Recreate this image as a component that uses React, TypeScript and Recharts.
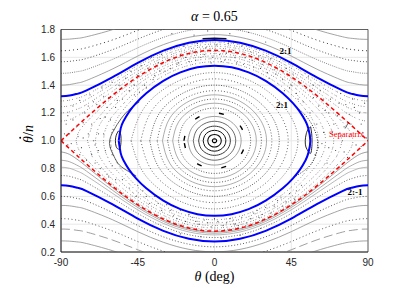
import {
  ComposedChart,
  Line,
  Scatter,
  XAxis,
  YAxis,
  CartesianGrid,
  ReferenceArea,
  ReferenceDot,
} from 'recharts';

type Pt = { x: number; y: number };

// theta (deg) at which the circulating curves were read
const thetaGrid = [-90, -85, -80, -75, -60, -45, -30, -15, 0, 15, 30, 45, 60, 75, 80, 85, 90];

const xTicks = [-90, -45, 0, 45, 90];
const yTicks = [0.2, 0.4, 0.6, 0.8, 1.0, 1.2, 1.4, 1.6, 1.8];

// circulating curves above the upper blue curve
const rotUp1 = [1.729, 1.731, 1.737, 1.748, 1.798, 1.862, 1.921, 1.962, 1.977, 1.962, 1.921, 1.862, 1.798, 1.748, 1.737, 1.731, 1.729];
const rotUp2 = [1.647, 1.65, 1.657, 1.669, 1.724, 1.794, 1.858, 1.902, 1.917, 1.902, 1.858, 1.794, 1.724, 1.669, 1.657, 1.65, 1.647];
const rotUp3 = [1.568, 1.571, 1.579, 1.592, 1.654, 1.731, 1.8, 1.847, 1.863, 1.847, 1.8, 1.731, 1.654, 1.592, 1.579, 1.571, 1.568];
const rotUp4 = [1.485, 1.488, 1.498, 1.513, 1.584, 1.668, 1.743, 1.793, 1.811, 1.793, 1.743, 1.668, 1.584, 1.513, 1.498, 1.488, 1.485];
const rotUp5 = [1.4, 1.404, 1.416, 1.434, 1.515, 1.609, 1.691, 1.744, 1.763, 1.744, 1.691, 1.609, 1.515, 1.434, 1.416, 1.404, 1.4];

// 2:1 (upper) and 2:-1 (lower) curves
const blueUpper = [1.32, 1.325, 1.339, 1.362, 1.456, 1.56, 1.648, 1.705, 1.725, 1.705, 1.648, 1.56, 1.456, 1.362, 1.339, 1.325, 1.32];
const blueLower = [0.68, 0.675, 0.661, 0.638, 0.544, 0.44, 0.352, 0.295, 0.275, 0.295, 0.352, 0.44, 0.544, 0.638, 0.661, 0.675, 0.68];

// circulating curves below the lower blue curve
const rotLow1 = [0.6, 0.596, 0.584, 0.566, 0.485, 0.391, 0.309, 0.256, 0.237, 0.256, 0.309, 0.391, 0.485, 0.566, 0.584, 0.596, 0.6];
const rotLow2 = [0.535, 0.532, 0.522, 0.506, 0.433, 0.346, 0.27, 0.219, 0.201, 0.219, 0.27, 0.346, 0.433, 0.506, 0.522, 0.532, 0.535];
const rotLow3 = [0.44, 0.437, 0.428, 0.415, 0.352, 0.275, 0.206, 0.158, 0.142, 0.158, 0.206, 0.275, 0.352, 0.415, 0.428, 0.437, 0.44];
const rotLow4 = [0.365, 0.363, 0.355, 0.343, 0.287, 0.216, 0.152, 0.107, 0.091, 0.107, 0.152, 0.216, 0.287, 0.343, 0.355, 0.363, 0.365];
const rotLow5 = [0.28, 0.278, 0.272, 0.261, 0.21, 0.146, 0.086, 0.045, 0.03, 0.045, 0.086, 0.146, 0.21, 0.261, 0.272, 0.278, 0.28];

// just below the separatrix, between it and the 2:-1 curve
const nearSep1 = [0.92, 0.902, 0.862, 0.814, 0.665, 0.533, 0.431, 0.367, 0.345, 0.367, 0.431, 0.533, 0.665, 0.814, 0.862, 0.902, 0.92];
const nearSep2 = [0.86, 0.849, 0.82, 0.781, 0.646, 0.52, 0.42, 0.357, 0.335, 0.357, 0.42, 0.52, 0.646, 0.781, 0.82, 0.849, 0.86];
const nearSep3 = [0.81, 0.802, 0.779, 0.746, 0.624, 0.503, 0.406, 0.344, 0.323, 0.344, 0.406, 0.503, 0.624, 0.746, 0.779, 0.802, 0.81];
const nearSep4 = [0.75, 0.744, 0.726, 0.699, 0.59, 0.477, 0.384, 0.324, 0.304, 0.324, 0.384, 0.477, 0.59, 0.699, 0.726, 0.744, 0.75];

// speckled chaotic layer above the separatrix
const chaosUp1 = [1.141, 1.152, 1.181, 1.22, 1.354, 1.481, 1.58, 1.644, 1.665, 1.644, 1.58, 1.481, 1.354, 1.22, 1.181, 1.152, 1.141];
const chaosUp2 = [1.2, 1.208, 1.23, 1.261, 1.382, 1.501, 1.597, 1.659, 1.68, 1.659, 1.597, 1.501, 1.382, 1.261, 1.23, 1.208, 1.2];
const chaosUp3 = [1.245, 1.251, 1.27, 1.297, 1.407, 1.521, 1.614, 1.674, 1.695, 1.674, 1.614, 1.521, 1.407, 1.297, 1.27, 1.251, 1.245];
const chaosUp4 = [1.286, 1.292, 1.308, 1.332, 1.433, 1.542, 1.632, 1.69, 1.71, 1.69, 1.632, 1.542, 1.433, 1.332, 1.308, 1.292, 1.286];

// separatrix (red dashed)
const sepUpper = [1, 1.057, 1.113, 1.168, 1.325, 1.46, 1.563, 1.628, 1.65, 1.628, 1.563, 1.46, 1.325, 1.168, 1.113, 1.057, 1];
const sepLower = [1, 0.943, 0.887, 0.832, 0.675, 0.54, 0.437, 0.372, 0.35, 0.372, 0.437, 0.54, 0.675, 0.832, 0.887, 0.943, 1];

// upper halves [theta, value] of closed curves; lower halves mirror about 1
const eyeUpper = [[-56.18, 1], [-55, 1.089], [-53.4, 1.14], [-50, 1.209], [-46, 1.27], [-40, 1.342], [-30, 1.431], [-20, 1.492], [-10, 1.528], [0, 1.54], [10, 1.528], [20, 1.492], [30, 1.431], [40, 1.342], [46, 1.27], [50, 1.209], [53.4, 1.14], [55, 1.089], [56.18, 1]];

const chaosLoop1 = [[-81.15, 1], [-80, 1.052], [-75, 1.135], [-60, 1.309], [-45, 1.449], [-30, 1.554], [-15, 1.62], [0, 1.642], [15, 1.62], [30, 1.554], [45, 1.449], [60, 1.309], [75, 1.135], [80, 1.052], [81.15, 1]];
const chaosLoop2 = [[-74.5, 1], [-72, 1.102], [-70, 1.139], [-60, 1.275], [-45, 1.426], [-30, 1.536], [-15, 1.604], [0, 1.627], [15, 1.604], [30, 1.536], [45, 1.426], [60, 1.275], [70, 1.139], [72, 1.102], [74.5, 1]];
const chaosLoop3 = [[-69.9, 1], [-68, 1.096], [-65, 1.16], [-60, 1.236], [-45, 1.402], [-30, 1.517], [-15, 1.587], [0, 1.61], [15, 1.587], [30, 1.517], [45, 1.402], [60, 1.236], [65, 1.16], [68, 1.096], [69.9, 1]];
const chaosLoop4 = [[-65.1, 1], [-64, 1.079], [-62, 1.135], [-60, 1.175], [-45, 1.369], [-30, 1.492], [-15, 1.565], [0, 1.59], [15, 1.565], [30, 1.492], [45, 1.369], [60, 1.175], [62, 1.135], [64, 1.079], [65.1, 1]];
const chaosLoop5 = [[-60.9, 1], [-60, 1.075], [-58, 1.137], [-55, 1.198], [-45, 1.334], [-30, 1.466], [-15, 1.542], [0, 1.568], [15, 1.542], [30, 1.466], [45, 1.334], [55, 1.198], [58, 1.137], [60, 1.075], [60.9, 1]];

// librating curves around the centre (0, 1)
const ring1 = [[-1.23, 1], [-1.07, 1.007], [-0.62, 1.012], [0, 1.014], [0.62, 1.012], [1.07, 1.007], [1.23, 1]];
const ring2 = [[-3.97, 1], [-3.43, 1.023], [-1.98, 1.039], [0, 1.045], [1.98, 1.039], [3.43, 1.023], [3.97, 1]];
const ring3 = [[-6.63, 1], [-5.73, 1.038], [-3.31, 1.065], [0, 1.075], [3.31, 1.065], [5.73, 1.038], [6.63, 1]];
const ring4 = [[-9.3, 1], [-8.04, 1.053], [-4.63, 1.091], [0, 1.105], [4.63, 1.091], [8.04, 1.053], [9.3, 1]];
const ring5 = [[-12.44, 1], [-10.75, 1.07], [-6.18, 1.121], [0, 1.14], [6.18, 1.121], [10.75, 1.07], [12.44, 1]];
const ring6 = [[-15.62, 1], [-13.48, 1.088], [-7.74, 1.152], [0, 1.175], [7.74, 1.152], [13.48, 1.088], [15.62, 1]];
const ring7 = [[-17.92, 1], [-15.45, 1.1], [-8.85, 1.173], [0, 1.2], [8.85, 1.173], [15.45, 1.1], [17.92, 1]];
const ring8 = [[-21.19, 1], [-18.25, 1.118], [-10.42, 1.204], [0, 1.235], [10.42, 1.204], [18.25, 1.118], [21.19, 1]];
const ring9 = [[-24.54, 1], [-21.08, 1.135], [-11.99, 1.234], [0, 1.27], [11.99, 1.234], [21.08, 1.135], [24.54, 1]];
const ring10 = [[-27.49, 1], [-23.56, 1.15], [-13.34, 1.26], [0, 1.3], [13.34, 1.26], [23.56, 1.15], [27.49, 1]];
const ring11 = [[-30.51, 1], [-26.08, 1.165], [-14.7, 1.286], [0, 1.33], [14.7, 1.286], [26.08, 1.165], [30.51, 1]];
const ring12 = [[-33.63, 1], [-28.66, 1.18], [-16.08, 1.312], [0, 1.36], [16.08, 1.312], [28.66, 1.18], [33.63, 1]];
const ring13 = [[-37.98, 1], [-32.2, 1.2], [-17.92, 1.346], [0, 1.4], [17.92, 1.346], [32.2, 1.2], [37.98, 1]];
const ring14 = [[-43.21, 1], [-36.36, 1.223], [-20.02, 1.385], [0, 1.445], [20.02, 1.385], [36.36, 1.223], [43.21, 1]];
const ring15 = [[-48.92, 1], [-40.75, 1.245], [-22.14, 1.424], [0, 1.49], [22.14, 1.424], [40.75, 1.245], [48.92, 1]];

// small islands at the ends of the 2:1 eye and the curves wrapping them
const islandRight = [[56.4, 1.1], [55, 1.085], [53.8, 1.05], [53.2, 1.0], [53.6, 0.955], [54.9, 0.925], [56.4, 0.91], [57.1, 0.96], [57.2, 1.0], [57.0, 1.05], [56.4, 1.1]];
const islandLeft = [[-56.4, 1.07], [-57.6, 1.04], [-58.1, 1.0], [-57.7, 0.96], [-56.5, 0.94], [-55.3, 0.95], [-54.8, 1.0], [-55.1, 1.05], [-56.4, 1.07]];
const crescentLeft = [[-44, 1.28], [-49.5, 1.23], [-54.7, 1.16], [-59.3, 1.07], [-61.6, 0.98], [-59, 0.89], [-55.7, 0.825], [-50.5, 0.78], [-45.9, 0.746]];
const crescentRight = [[47, 1.25], [52, 1.2], [56.5, 1.13], [59.5, 1.05], [60.5, 0.98], [59.5, 0.9], [56.5, 0.83], [52, 0.78], [47.5, 0.745]];
const topIsland = [[-7, 1.733], [0, 1.737], [7, 1.733]];
const sepArrow = [[76.6, 1.088], [78.6, 1.133]];

// scattered points of the chaotic zone
const chaosDots = [
  [-88, 1.05], [-86, 1.18], [-86, 0.97], [-84, 0.98], [-83, 1.25], [-82, 0.93], [-81, 1.1], [-79, 1.29], [-78, 0.95], [-77, 1.02],
  [-76, 1.2], [-75, 0.86], [-73, 1.33], [-72, 1.12], [-72, 0.9], [-70, 0.97], [-70, 0.84], [-69, 1.26], [-68, 1.05], [-67, 0.8],
  [-66, 1.38], [-64, 1.17], [-64, 0.93], [-63, 0.76], [-62, 1.31], [-61, 0.95], [-60, 1.42], [-60, 0.82], [-59, 1.08], [-58, 1.24],
  [-58, 0.72], [-55, 1.37], [-54, 1.3], [-52, 1.45], [-50, 1.36], [-49, 1.5], [-47, 1.33], [-45, 1.47], [-43, 1.54], [-41, 1.4],
  [-39, 1.52], [-37, 1.6], [-35, 1.47], [-33, 1.56], [-31, 1.62], [-29, 1.5], [-27, 1.58], [-25, 1.66], [-22, 1.55], [-20, 1.62],
  [-18, 1.68], [-15, 1.57], [-13, 1.64], [-10, 1.7], [-8, 1.6], [-5, 1.67], [-2, 1.56], [1, 1.69], [3, 1.62], [6, 1.58],
  [8, 1.7], [11, 1.65], [13, 1.56], [16, 1.68], [18, 1.6], [21, 1.64], [23, 1.53], [26, 1.61], [28, 1.55], [31, 1.49],
  [33, 1.59], [35, 1.51], [38, 1.57], [40, 1.44], [42, 1.52], [44, 1.38], [46, 1.48], [48, 1.34], [50, 1.42], [52, 1.28],
  [54, 1.38], [56, 1.2], [58, 1.31], [59, 0.9], [60, 1.12], [62, 1.36], [63, 0.98], [65, 1.22], [66, 0.84], [68, 1.3],
  [69, 1.06], [71, 0.93], [72, 1.18], [74, 1.34], [75, 1.0], [77, 1.26], [78, 0.88], [80, 1.12], [81, 1.3], [83, 0.97],
  [85, 1.2], [87, 1.06], [88, 1.27],
  [-40, 1.38], [-36, 1.44], [-32, 1.5], [-26, 1.52], [-21, 1.56], [-17, 1.6], [-11, 1.58], [-6, 1.62], [-1, 1.6], [4, 1.57],
  [7, 1.63], [12, 1.6], [17, 1.55], [22, 1.58], [27, 1.52], [32, 1.45], [36, 1.48], [41, 1.36], [45, 1.4], [49, 1.3],
  [-47, 1.4], [-44, 1.35],
  [-89, 1.0], [-87, 1.12], [-85, 1.05], [-83, 1.15], [-80, 1.03], [-79, 0.9], [-77, 1.13], [-74, 1.05], [-74, 1.25], [-71, 1.0],
  [-71, 1.28], [-68, 0.93], [-67, 1.16], [-65, 1.05], [-65, 1.32], [-63, 1.24], [-61, 1.15], [-60, 0.9], [-57, 1.29], [-56, 1.4],
  [89, 1.02], [86, 0.96], [86, 1.12], [84, 1.07], [82, 1.24], [79, 1.03], [79, 1.19], [76, 0.92], [76, 1.1], [73, 1.05],
  [73, 1.27], [70, 1.12], [67, 0.95], [67, 1.2], [64, 1.06], [64, 1.3], [61, 0.95], [61, 1.25], [58, 1.4], [55, 1.46],
  [-50, 0.66], [-46, 0.6], [-42, 0.64], [-38, 0.55], [-35, 0.6], [-31, 0.5], [-28, 0.54], [-24, 0.46], [-20, 0.5], [-17, 0.42],
  [-13, 0.45], [-9, 0.4], [-6, 0.43], [-2, 0.38], [2, 0.42], [5, 0.39], [9, 0.44], [12, 0.4], [16, 0.45], [19, 0.41],
  [23, 0.48], [26, 0.45], [30, 0.52], [33, 0.48], [37, 0.57], [40, 0.53], [44, 0.62], [47, 0.58], [51, 0.68], [-54, 0.72],
  [-45, 0.68], [-40, 0.6], [-33, 0.55], [-26, 0.5], [-22, 0.44], [-15, 0.47], [-11, 0.42], [-4, 0.41], [0, 0.44], [7, 0.41],
  [11, 0.43], [14, 0.39], [21, 0.44], [25, 0.5], [28, 0.47], [35, 0.53], [39, 0.59], [42, 0.56], [48, 0.64],
  [-62, 0.74], [-20, 0.33], [-8, 0.31], [4, 0.3], [15, 0.32], [27, 0.37],
  [-25, 1.77], [-12, 1.76], [-4, 1.79], [9, 1.77], [20, 1.78], [30, 1.71],
];

const onGrid = (vals: number[]): Pt[] => thetaGrid.map((x, i) => ({ x, y: vals[i] }));
const pairs = (list: number[][]): Pt[] => list.map(([x, y]) => ({ x, y }));
const loop = (upper: number[][]): Pt[] => {
  const top = pairs(upper);
  const bottom = top.slice(0, -1).reverse().map((p) => ({ x: p.x, y: 2 - p.y }));
  return [...top, ...bottom];
};

const SERIF = 'Liberation Serif, Times New Roman, serif';
const SANS = 'Liberation Sans, Arial, sans-serif';
const speck = '0.8 2.6 0.8 1.2 0.8 3.4 0.8 1.7 0.8 2.1 0.8 4.0';
const speck2 = '0.8 1.5 0.8 3.1 0.8 1.0 0.8 2.4 0.8 3.6 0.8 1.9';

const curve = (
  id: string,
  data: Pt[],
  stroke: string,
  width: number,
  dash?: string,
  type: 'natural' | 'linear' = 'natural',
) => (
  <Line
    key={id}
    data={data}
    dataKey="y"
    type={type}
    stroke={stroke}
    strokeWidth={width}
    strokeDasharray={dash}
    dot={false}
    activeDot={false}
    isAnimationActive={false}
    legendType="none"
  />
);

const dotShape = (props: any) => <circle cx={props.cx} cy={props.cy} r={0.6} fill="#4a4a4a" />;

export default function App() {
  const rings = [ring1, ring2, ring3, ring4, ring5, ring6, ring7, ring8, ring9, ring10, ring11, ring12, ring13, ring14, ring15];
  const ringStyle: [string, number, string | undefined][] = [
    ['#000', 1.2, undefined],
    ['#111', 1.1, undefined],
    ['#111', 1.0, undefined],
    ['#222', 0.9, undefined],
    ['#444', 0.8, undefined],
    ['#777', 0.7, undefined],
    ['#000', 1.4, '5 20'],
    ['#333', 0.8, '1 1.6'],
    ['#888', 0.7, undefined],
    ['#333', 0.8, '1 1.8'],
    ['#888', 0.7, undefined],
    ['#444', 0.8, '1 2'],
    ['#333', 0.8, '1 1.5'],
    ['#444', 0.8, '1 2.2'],
    ['#555', 0.8, '1 1.7'],
  ];

  return (
    <div style={{ position: 'absolute', left: 0, top: 0, width: 415, height: 294, background: '#fff' }}>
      <ComposedChart width={415} height={294} margin={{ top: 29.5, right: 47, bottom: 0, left: 0 }}>
        <CartesianGrid stroke="#e8e8e8" />
        <XAxis
          type="number"
          dataKey="x"
          domain={[-90, 90]}
          ticks={xTicks}
          allowDataOverflow
          height={42}
          tickLine={false}
          tickSize={5}
          tickMargin={2}
          axisLine={{ stroke: '#262626', strokeWidth: 0.7 }}
          tick={{ fill: '#262626', fontSize: 10, fontFamily: SANS }}
        />
        <YAxis
          type="number"
          dataKey="y"
          domain={[0.2, 1.8]}
          ticks={yTicks}
          allowDataOverflow
          width={61}
          tickLine={false}
          tickSize={4}
          tickMargin={2}
          tickFormatter={(v: number) => v.toFixed(1)}
          axisLine={{ stroke: '#262626', strokeWidth: 0.7 }}
          tick={{ fill: '#262626', fontSize: 10, fontFamily: SANS }}
        />

        {curve('u1', onGrid(rotUp1), '#8c8c8c', 0.8)}
        {curve('u2', onGrid(rotUp2), '#222', 0.9, '1 3')}
        {curve('u3', onGrid(rotUp3), '#333', 0.8, '1 2')}
        {curve('u4', onGrid(rotUp4), '#666', 0.8, '1 1.2')}
        {curve('u5', onGrid(rotUp5), '#8c8c8c', 0.8)}
        {curve('l1', onGrid(rotLow1), '#333', 0.8, '1 2')}
        {curve('l2', onGrid(rotLow2), '#8c8c8c', 0.8)}
        {curve('l3', onGrid(rotLow3), '#333', 0.8, '1 2.5')}
        {curve('l4', onGrid(rotLow4), '#888', 0.8, '9 4')}
        {curve('l5', onGrid(rotLow5), '#8c8c8c', 0.8)}
        {curve('n1', onGrid(nearSep1), '#777', 0.7)}
        {curve('n2', onGrid(nearSep2), '#888', 0.7)}
        {curve('n3', onGrid(nearSep3), '#999', 0.7)}
        {curve('n4', onGrid(nearSep4), '#444', 0.8, '1 1.8')}

        {curve('c1', onGrid(chaosUp1), '#555', 0.8, speck)}
        {curve('c2', onGrid(chaosUp2), '#555', 0.8, speck2)}
        {curve('c3', onGrid(chaosUp3), '#555', 0.8, speck)}
        {curve('c4', onGrid(chaosUp4), '#555', 0.8, speck2)}
        {curve('k1', loop(chaosLoop1), '#555', 0.8, speck2)}
        {curve('k2', loop(chaosLoop2), '#555', 0.8, speck)}
        {curve('k3', loop(chaosLoop3), '#555', 0.8, speck2)}
        {curve('k4', loop(chaosLoop4), '#555', 0.8, speck)}
        {curve('k5', loop(chaosLoop5), '#555', 0.8, speck2)}

        {rings.map((r, i) => curve(`r${i}`, loop(r), ringStyle[i][0], ringStyle[i][1], ringStyle[i][2]))}

        {curve('isR', pairs(islandRight), '#111', 0.9)}
        {curve('isL', pairs(islandLeft), '#111', 0.9)}
        {curve('crL', pairs(crescentLeft), '#222', 0.7)}
        {curve('crR', pairs(crescentRight), '#111', 0.9, '1 1.6')}
        {curve('top', pairs(topIsland), '#111', 1.6)}

        <Scatter
          data={pairs(chaosDots)}
          dataKey="y"
          shape={dotShape}
          isAnimationActive={false}
          legendType="none"
        />

        {curve('sepU', onGrid(sepUpper), '#ff0000', 1.5, '4 3')}
        {curve('sepL', onGrid(sepLower), '#ff0000', 1.5, '4 3')}
        {curve('bU', onGrid(blueUpper), '#0000ff', 2)}
        {curve('bL', onGrid(blueLower), '#0000ff', 2)}
        {curve('eye', loop(eyeUpper), '#0000ff', 2)}
        {curve('arrow', pairs(sepArrow), '#222', 0.7, undefined, 'linear')}

        <ReferenceArea x1={-90} x2={90} y1={0.2} y2={1.8} fill="none" stroke="#262626" strokeWidth={0.7} />

        <ReferenceDot x={41.6} y={1.645} r={0} fill="none" stroke="none"
          label={{ value: '2:1', position: 'center', fontSize: 9, fontWeight: 'bold', fill: '#000', fontFamily: SERIF }} />
        <ReferenceDot x={39.6} y={1.257} r={0} fill="none" stroke="none"
          label={{ value: '2:1', position: 'center', fontSize: 9, fontWeight: 'bold', fill: '#000', fontFamily: SERIF }} />
        <ReferenceDot x={82.4} y={0.635} r={0} fill="none" stroke="none"
          label={{ value: '2:-1', position: 'center', fontSize: 9, fontWeight: 'bold', fill: '#000', fontFamily: SERIF }} />
        <ReferenceDot x={77.4} y={1.052} r={0} fill="none" stroke="none"
          label={{ value: 'Separatrix', position: 'center', fontSize: 8.5, fill: '#ff0000', fontFamily: SERIF }} />
      </ComposedChart>

      <svg width={415} height={294} style={{ position: 'absolute', left: 0, top: 0, pointerEvents: 'none' }}>
        <text x={214.5} y={21} textAnchor="middle" fontFamily={SERIF} fontSize={14} fill="#000">
          <tspan fontStyle="italic">α</tspan> = 0.65
        </text>
        <text x={214.5} y={281} textAnchor="middle" fontFamily={SERIF} fontSize={14} fill="#000">
          <tspan fontStyle="italic">θ</tspan> (deg)
        </text>
        <g transform="translate(32.5,134) rotate(-90)">
          <text x={0} y={0} textAnchor="middle" fontFamily={SERIF} fontSize={14} fill="#000">
            <tspan fontStyle="italic">θ</tspan>/<tspan fontStyle="italic">n</tspan>
          </text>
          <circle cx={-3.8} cy={-12.3} r={0.95} fill="#000" />
        </g>
      </svg>
    </div>
  );
}
